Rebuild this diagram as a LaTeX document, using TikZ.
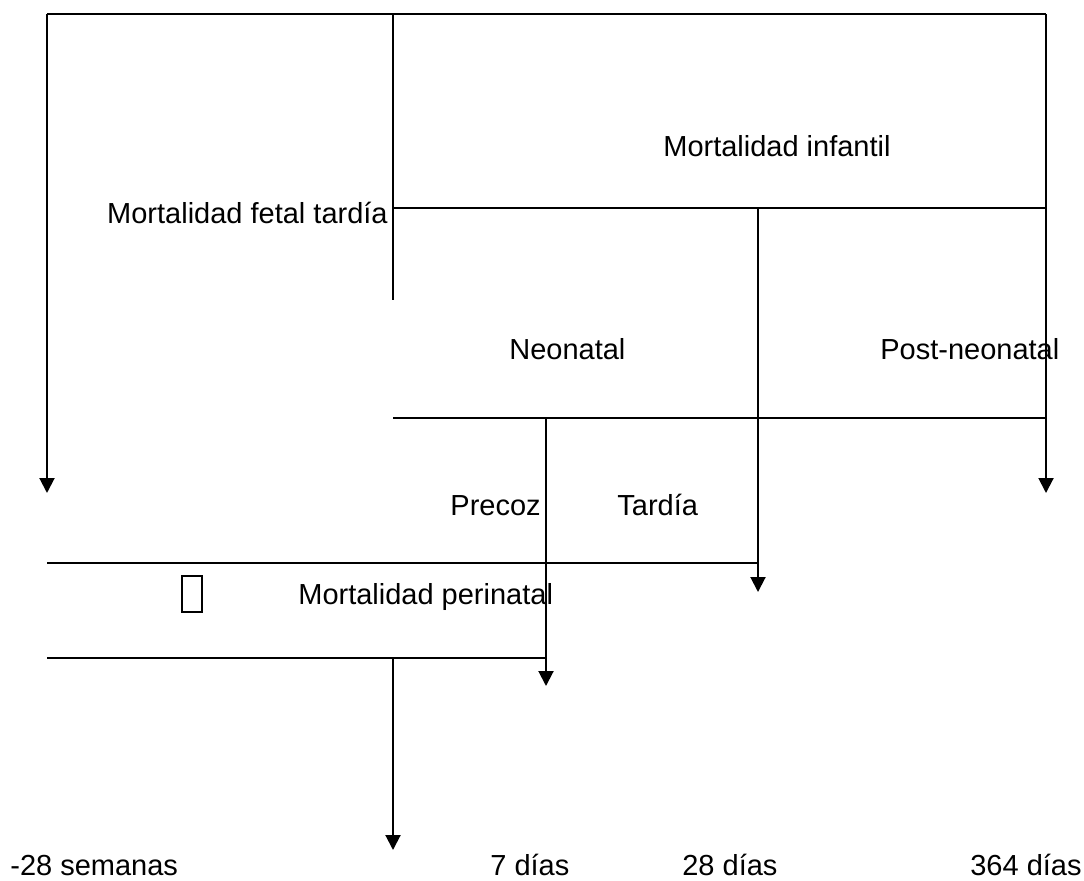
\documentclass[tikz,border=0pt]{standalone}
\usepackage{fontspec}
\setmainfont{Liberation Sans}
\usetikzlibrary{arrows.meta,positioning}

\begin{document}
\begin{tikzpicture}[
        x=0.2mm,y=-0.2mm,
        linea/.style={line width=0.4mm},
        flecha/.style={linea,-{Triangle[width=3mm,length=3mm]}},
        rotulo/.style={font=\fontsize{16.5}{19}\selectfont,inner sep=0pt}]
        \useasboundingbox (0,0) rectangle (1084,880);
        \coordinate (ai) at (47,14);
        \coordinate (ac) at (393,14);
        \coordinate (ad) at (1046,14);
        \coordinate (fi) at (47,493);
        \coordinate (fd) at (1046,493);
        \coordinate (cf) at (393,300);
        \coordinate (mi) at (393,208);
        \coordinate (md) at (1046,208);
        \coordinate (m28) at (758,208);
        \coordinate (f28) at (758,592);
        \coordinate (ni) at (393,418);
        \coordinate (nd) at (1046,418);
        \coordinate (n7) at (546,418);
        \coordinate (f7) at (546,686);
        \coordinate (pi) at (47,563);
        \coordinate (pd) at (758,563);
        \coordinate (qi) at (47,658);
        \coordinate (qd) at (546,658);
        \coordinate (q0) at (393,658);
        \coordinate (f0) at (393,850);
        \node[rotulo,anchor=base west] (inf) at (663,156) {Mortalidad infantil};
        \node[rotulo,anchor=base east] (fet) at (388,223) {Mortalidad fetal tardía};
        \node[rotulo,anchor=base west] (neo) at (509,359) {Neonatal};
        \node[rotulo,anchor=base west] (post) at (880,359) {Post-neonatal};
        \node[rotulo,anchor=base east] (prec) at (541,515) {Precoz};
        \node[rotulo,anchor=base west] (tard) at (617,515) {Tardía};
        \node[rotulo,anchor=base west] (peri) at (298,604) {Mortalidad perinatal};
        \node[draw,line width=0.3mm,minimum width=4mm,minimum height=7.2mm,
          inner sep=0pt] (caja) at (192,594) {};
        \node[rotulo,anchor=base west] (sem) at (10,875) {-28 semanas};
        \node[rotulo,anchor=base west] (d7) at (490,875) {7 días};
        \node[rotulo,anchor=base west] (d28) at (682,875) {28 días};
        \node[rotulo,anchor=base west] (d364) at (970,875) {364 días};
        \draw[linea] (ai)--(ad);
        \draw[flecha] (ai)--(fi);
        \draw[flecha] (ad)--(fd);
        \draw[linea] (ac)--(cf);
        \draw[linea] (mi)--(md);
        \draw[flecha] (m28)--(f28);
        \draw[linea] (ni)--(nd);
        \draw[flecha] (n7)--(f7);
        \draw[linea] (pi)--(pd);
        \draw[linea] (qi)--(qd);
        \draw[flecha] (q0)--(f0);
      \end{tikzpicture}
\end{document}
